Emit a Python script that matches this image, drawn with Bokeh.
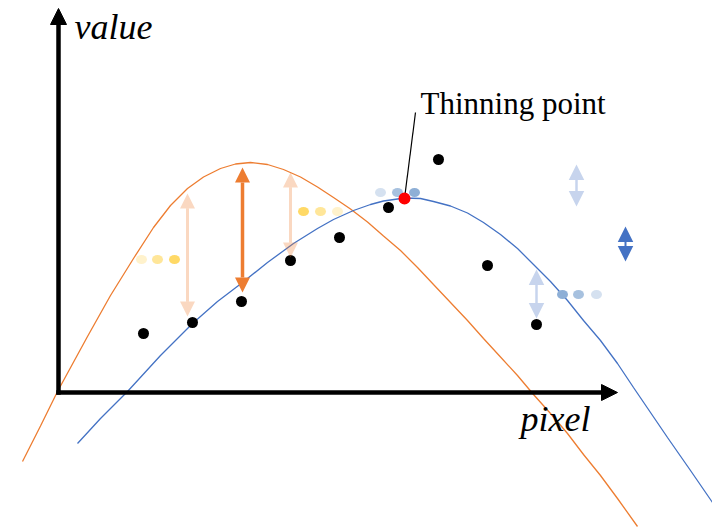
from bokeh.plotting import figure
from bokeh.models import Range1d, Arrow, NormalHead, Label
from bokeh.embed import file_html
from bokeh.resources import INLINE

# ---- data (axis units: pixel along x, value along y; origin = axis corner) ----
orange_x = [-36, -18, -1, 29, 52, 75, 95, 112, 129, 145, 162, 177, 192, 209, 225, 242, 259, 275,
            292, 309, 325, 342, 359, 375, 392, 409, 425, 442, 459, 475, 492, 509, 525, 542, 559, 579]
orange_y = [-70, -34.5, 0, 55, 96, 133, 164, 186, 203, 214.5, 223, 227.5, 229, 227, 222, 214.5, 204.5, 194,
            182.5, 169.5, 155.5, 141, 124, 107, 89, 71, 53, 34.5, 16, -3, -22, -42, -63, -84, -107, -135]

blue_x = [19, 42, 69, 102, 134, 159, 184, 209, 235, 259, 275, 295, 312, 325, 346, 362, 375, 392,
          409, 425, 442, 459, 475, 492, 509, 525, 542, 559, 575, 592, 609, 632, 654]
blue_y = [-52, -27, 0, 36, 68, 90, 109, 129, 148, 163, 172, 181, 187, 190.5, 193.5, 193, 190, 185.5,
          178.5, 169, 157, 143, 127, 110, 91, 71, 51, 28, 4, -21, -46, -79, -111]

points_x = [85, 134, 183, 232, 281, 330, 380, 429, 478]
points_y = [58, 69, 90, 131, 154, 184, 232, 126, 67]

thinning_x = [346]
thinning_y = [193]
thinning_label_x = 362
thinning_label_y = 288
leader_x = [357, 346]
leader_y = [279, 193]

yellow_x = [83, 99, 116, 245, 262, 279]
yellow_y = [132, 132, 132, 180, 180, 180]
yellow_c = ["#FFF2CC", "#FFE699", "#FFD966", "#FFD966", "#FFE699", "#FFF2CC"]

bluedot_x = [322, 339, 356, 504, 520, 538]
bluedot_y = [199, 199, 199, 97, 97, 97]
bluedot_c = ["#D5E1F0", "#A7C1DF", "#8EAFD6", "#8EAFD6", "#A7C1DF", "#D5E1F0"]

# orange arrows: x, top, bottom, alpha, width
oarr_x = [129, 184, 232]
oarr_top = [198, 224, 219]
oarr_bot = [75, 99, 134]
oarr_alpha = [0.3, 1.0, 0.3]
oarr_w = [3, 3.5, 3]

barr_x = [518, 567, 478]
barr_top = [227, 165, 122]
barr_bot = [185, 130, 73]
barr_alpha = [0.3, 1.0, 0.3]
barr_w = [2.5, 2, 2.5]

ORANGE = "#ED7D31"
BLUE = "#4472C4"

p = figure(width=712, height=530, x_range=Range1d(-58, 654), y_range=Range1d(-139, 391),
           output_backend="svg", toolbar_location=None, min_border=0,
           x_axis_location=None, y_axis_location=None)
p.grid.visible = False
p.outline_line_color = None
p.background_fill_color = "white"

# axes arrows
p.add_layout(Arrow(x_start=0, y_start=-3.2, x_end=0, y_end=383,
                   line_width=4.5, line_color="black",
                   end=NormalHead(size=16, fill_color="black", line_color="black", line_width=1)))
p.add_layout(Arrow(x_start=-2.2, y_start=-1, x_end=559, y_end=-1,
                   line_width=4.5, line_color="black",
                   end=NormalHead(size=16, fill_color="black", line_color="black", line_width=1)))

# difference arrows
def add_arrows(xs, tops, bots, alphas, widths, color, size):
    for x, t, b, a, w in zip(xs, tops, bots, alphas, widths):
        p.add_layout(Arrow(x_start=x, y_start=b, x_end=x, y_end=t,
                           line_width=w, line_color=color, line_alpha=a,
                           start=NormalHead(size=size, fill_color=color, fill_alpha=a,
                                            line_color=None),
                           end=NormalHead(size=size, fill_color=color, fill_alpha=a,
                                          line_color=None)))

add_arrows(oarr_x, oarr_top, oarr_bot, oarr_alpha, oarr_w, ORANGE, 15)
add_arrows(barr_x, barr_top, barr_bot, barr_alpha, barr_w, BLUE, 15.5)

# curves
p.line(orange_x, orange_y, line_color=ORANGE, line_width=1.3)
p.line(blue_x, blue_y, line_color=BLUE, line_width=1.3)

# dotted "..." markers
p.ellipse(x=yellow_x, y=yellow_y, width=11, height=9, fill_color=yellow_c, line_color=None)
p.ellipse(x=bluedot_x, y=bluedot_y, width=11, height=9, fill_color=bluedot_c, line_color=None)

# leader line and points
p.line(leader_x, leader_y, line_color="black", line_width=1.2)
p.scatter(points_x, points_y, size=11, fill_color="black", line_color=None)
p.scatter(thinning_x, thinning_y, size=12, fill_color="#FF0000", line_color=None)

# labels
p.add_layout(Label(x=16, y=364.5, text="value", text_font="Liberation Serif",
                   text_font_style="italic", text_font_size="36px", text_color="black",
                   text_baseline="alphabetic"))
p.add_layout(Label(x=462, y=-27, text="pixel", text_font="Liberation Serif",
                   text_font_style="italic", text_font_size="36px", text_color="black",
                   text_baseline="alphabetic"))
p.add_layout(Label(x=thinning_label_x, y=thinning_label_y, text="Thinning point",
                   text_font="Liberation Serif", text_font_size="31px", text_color="black",
                   text_baseline="alphabetic"))

open("out.html", "w").write(file_html(p, INLINE))
